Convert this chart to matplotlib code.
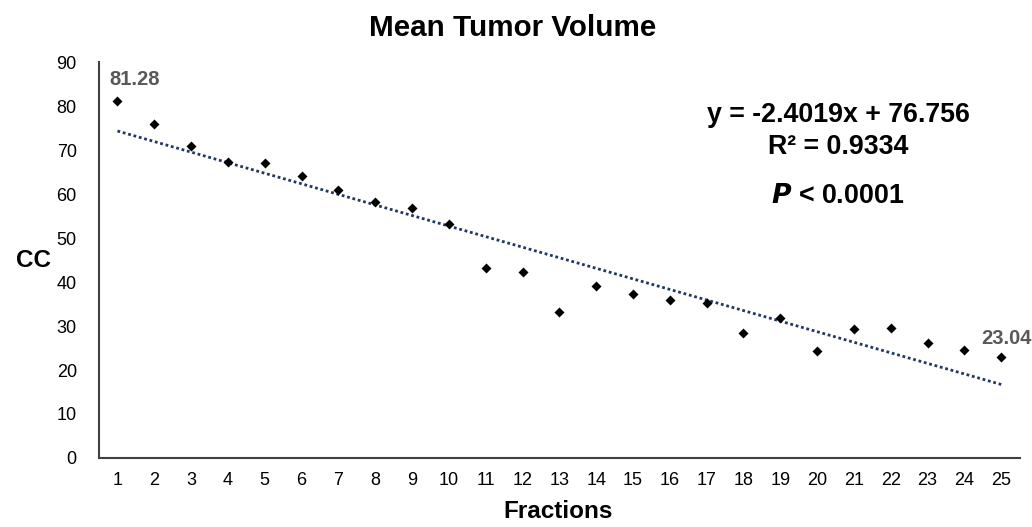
import matplotlib
matplotlib.use('Agg')
import matplotlib.pyplot as plt
import numpy as np

plt.rcParams['font.family'] = ['Liberation Sans', 'DejaVu Sans']

# data
fractions = list(range(1, 26))
volume = [81.28, 75.9, 70.9, 67.3, 67.0, 64.1, 60.9, 58.2, 56.8, 53.2,
          43.2, 42.3, 33.2, 39.1, 37.3, 35.9, 35.2, 28.4, 31.8, 24.3,
          29.3, 29.5, 26.1, 24.5, 23.04]
slope = -2.4019
intercept = 76.756
r2 = 0.9334

fig = plt.figure(figsize=(10.32, 5.27), dpi=100)
ax = fig.add_axes([0.096, 0.131, 0.892, 0.751])

ax.scatter(fractions, volume, marker='D', s=26, color='black', zorder=3, linewidths=0)
xfit = np.array([fractions[0], fractions[-1]])
ax.plot(xfit, slope * xfit + intercept, linestyle=(0, (1, 1)), lw=2, color='#1F3864', zorder=2)

ax.set_xlim(0.5, 25.5)
ax.set_ylim(0, 90)
ax.set_xticks(fractions)
ax.set_yticks(np.arange(0, 91, 10))
ax.tick_params(axis='both', length=0, labelsize=13, colors='#000000')
ax.tick_params(axis='x', pad=10)
ax.tick_params(axis='y', pad=16)
for s in ['top', 'right']:
    ax.spines[s].set_visible(False)
for s in ['left', 'bottom']:
    ax.spines[s].set_color('#404040')
    ax.spines[s].set_linewidth(1.5)

fig.text(0.541, 0.030, 'Fractions', fontsize=17.5, fontweight='bold', ha='center', va='center')
fig.text(0.032, 0.505, 'CC', fontsize=17.5, fontweight='bold', ha='center', va='center')
fig.text(0.497, 0.946, 'Mean Tumor Volume', fontsize=21.3, fontweight='bold', ha='center', va='center')

# end point labels
ax.annotate('81.28', (fractions[0], volume[0]), xytext=(12, 15), textcoords='offset points',
            ha='center', va='center', fontsize=14.5, fontweight='bold', color='#595959')
ax.annotate('23.04', (fractions[-1], volume[-1]), xytext=(4, 13), textcoords='offset points',
            ha='center', va='center', fontsize=14.5, fontweight='bold', color='#595959')

fig.text(0.812, 0.781, 'y = %.4fx + %.3f' % (slope, intercept), fontsize=19.3, fontweight='bold',
         ha='center', va='center')
fig.text(0.812, 0.722, 'R² = %.4f' % r2, fontsize=19.3, fontweight='bold', ha='center', va='center')
fig.text(0.812, 0.629, r'$\mathbfit{P}$ < 0.0001', fontsize=19.3, fontweight='bold', ha='center', va='center')

plt.savefig('out.png', dpi=100)
